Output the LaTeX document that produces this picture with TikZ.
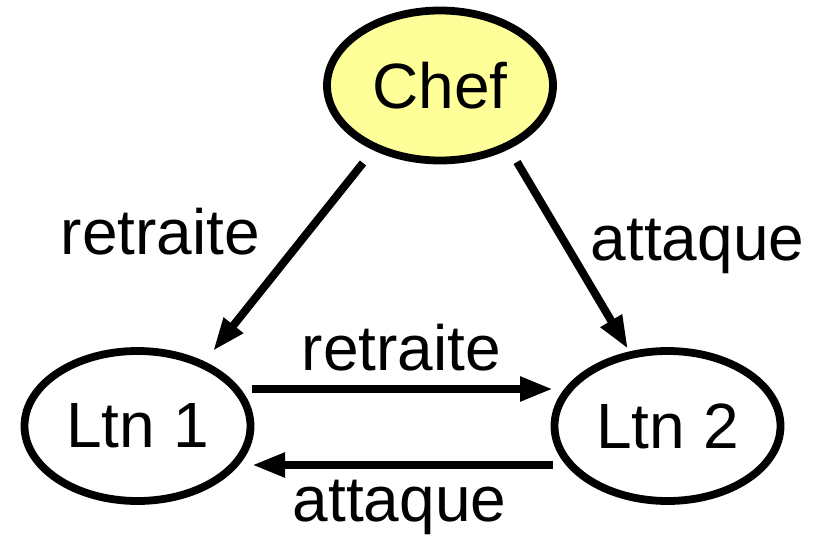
\documentclass[tikz,border=0pt]{standalone}
\usepackage{fontspec}
\setmainfont{Liberation Sans}
\usetikzlibrary{shapes.geometric,arrows.meta}
\definecolor{chefyellow}{HTML}{FFFF99}
\begin{document}
\begin{tikzpicture}[x=1pt,y=-1pt,
  state/.style={ellipse,draw=black,line width=7.8pt,inner sep=0pt,
    minimum width=226pt,minimum height=150pt,
    font=\fontsize{64}{76}\selectfont},
  lbl/.style={anchor=base,inner sep=0pt,font=\fontsize{64}{76}\selectfont},
  arr/.style={line width=8pt,-{Triangle[length=33pt,width=23pt]}}]
\useasboundingbox (0,0) rectangle (819,537);
\node[state,fill=chefyellow] (chef) at (440,85.5) {Chef};
\node[state] (ltn1) at (137.5,426) {Ltn 1};
\node[state] (ltn2) at (667.5,426) {Ltn 2};
\draw[arr] ([shift={(-77,77.5)}]chef.center) -- ([shift={(75.5,-75)}]ltn1.center);
\draw[arr] ([shift={(77,76.5)}]chef.center) -- ([shift={(-39.5,-77)}]ltn2.center);
\draw[arr] ([shift={(114.5,-37)}]ltn1.center) -- ([shift={(-114.5,-37)}]ltn2.center);
\draw[arr] ([shift={(-114.5,39)}]ltn2.center) -- ([shift={(114.5,39)}]ltn1.center);
\node[lbl] (l1) at (160.5,255) {retraite};
\node[lbl] (l2) at (697.5,261) {attaque};
\node[lbl] (l3) at (401.5,370) {retraite};
\node[lbl] (l4) at (399.5,521) {attaque};
\end{tikzpicture}
\end{document}
